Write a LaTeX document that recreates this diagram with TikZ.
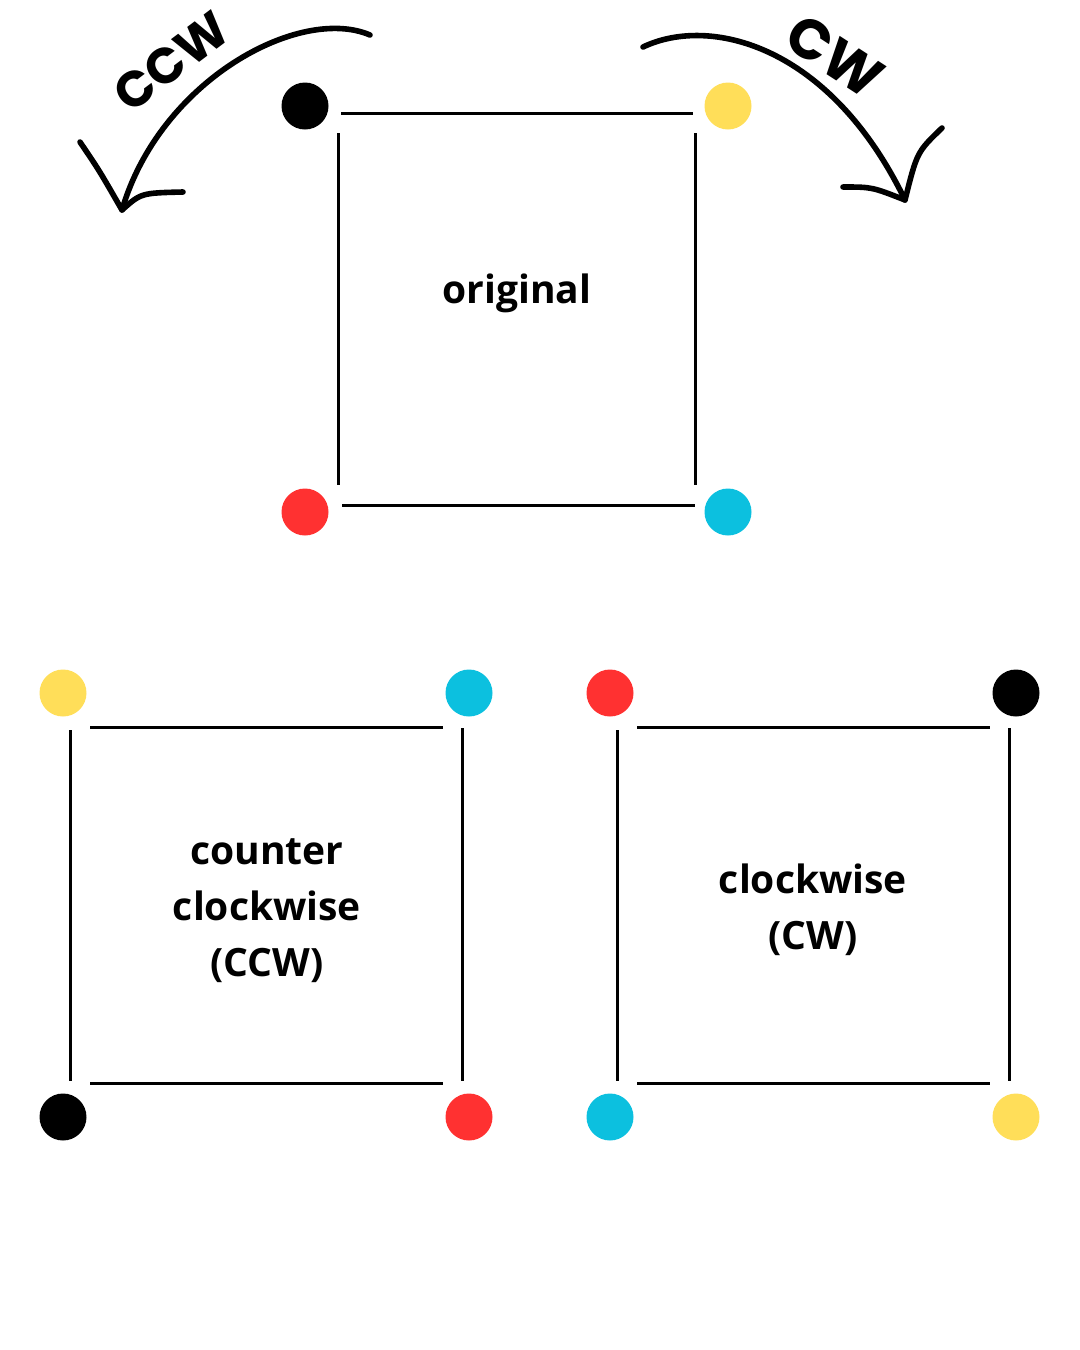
\documentclass[tikz,border=0pt]{standalone}
\usepackage{fontspec}
\setmainfont{Open Sans}
\newfontfamily\arcfont{Poppins}
\usepackage{tikz}
\usetikzlibrary{calc}
\definecolor{dot-yellow}{HTML}{FFDE59}
\definecolor{dot-red}{HTML}{FF3131}
\definecolor{dot-cyan}{HTML}{0CC0DF}
\tikzset{
    dot/.style   = {circle, minimum size=23.5pt, inner sep=0pt},
    edge/.style  = {line width=1.5pt},
    swoosh/.style = {line width=2.8pt, line cap=round, line join=round},
    caption/.style = {font=\fontsize{19.5}{28}\selectfont\bfseries, align=center, inner sep=0pt},
    arclabel/.style = {font=\arcfont\bfseries, inner sep=0pt},
}

\begin{document}
\begin{tikzpicture}[x=0.5pt, y=-0.5pt]
    \useasboundingbox (0,0) rectangle (1080,1350);

    % original
    \node[dot, fill=black]      (o-nw) at (305,106) {};
    \node[dot, fill=dot-yellow] (o-ne) at (728,106) {};
    \node[dot, fill=dot-red]    (o-sw) at (305,512) {};
    \node[dot, fill=dot-cyan]   (o-se) at (728,512) {};
    \draw[edge] ($(o-nw)+(36,7)$)  -- ($(o-ne)+(-35,7)$);
    \draw[edge] ($(o-sw)+(37,-7)$) -- ($(o-se)+(-33,-7)$);
    \draw[edge] ($(o-nw)+(33,27)$) -- ($(o-sw)+(33,-27)$);
    \draw[edge] ($(o-ne)+(-33,27)$) -- ($(o-se)+(-33,-27)$);
    \node[caption, anchor=base] (o-label) at (517,303) {original};

    % counter clockwise
    \node[dot, fill=dot-yellow] (c-nw) at (63,693) {};
    \node[dot, fill=dot-cyan]   (c-ne) at (469,693) {};
    \node[dot, fill=black]      (c-sw) at (63,1117) {};
    \node[dot, fill=dot-red]    (c-se) at (469,1117) {};
    \node[caption] (c-label) at (267,911) {counter\\clockwise\\(CCW)};

    % clockwise
    \node[dot, fill=dot-red]    (w-nw) at (610,693) {};
    \node[dot, fill=black]      (w-ne) at (1016,693) {};
    \node[dot, fill=dot-cyan]   (w-sw) at (610,1117) {};
    \node[dot, fill=dot-yellow] (w-se) at (1016,1117) {};
    \node[caption] (w-label) at (813,910) {clockwise\\(CW)};

    \foreach \b in {c,w} {
        \draw[edge] ($(\b-nw)+(27,34)$)  -- ($(\b-ne)+(-26,34)$);
        \draw[edge] ($(\b-sw)+(27,-34)$) -- ($(\b-se)+(-26,-34)$);
        \draw[edge] ($(\b-nw)+(7,37)$)   -- ($(\b-sw)+(7,-36)$);
        \draw[edge] ($(\b-ne)+(-7,35)$)  -- ($(\b-se)+(-7,-36)$);
    }

    % turn arrows
    \coordinate (ccw-start) at (370,35);
    \coordinate (ccw-tip)   at (122,210);
    \draw[swoosh] (ccw-start) .. controls (300,5) and (160,80) .. (ccw-tip);
    \draw[swoosh] (80,142) .. controls (99,170) .. (ccw-tip)
                  .. controls (141,193) .. (183,192);
    \node[arclabel, font=\arcfont\bfseries\fontsize{25}{30}\selectfont, rotate=37] (ccw-label) at (171,62) {CCW};

    \coordinate (cw-start) at (643,47);
    \coordinate (cw-tip)   at (905,200);
    \draw[swoosh] (cw-start) .. controls (710,15) and (830,45) .. (cw-tip);
    \draw[swoosh] (942,128) .. controls (917,152) .. (cw-tip)
                  .. controls (872,187) .. (843,187);
    \node[arclabel, font=\arcfont\bfseries\fontsize{28}{32}\selectfont, rotate=-33] (cw-label) at (835,56) {CW};
\end{tikzpicture}
\end{document}
